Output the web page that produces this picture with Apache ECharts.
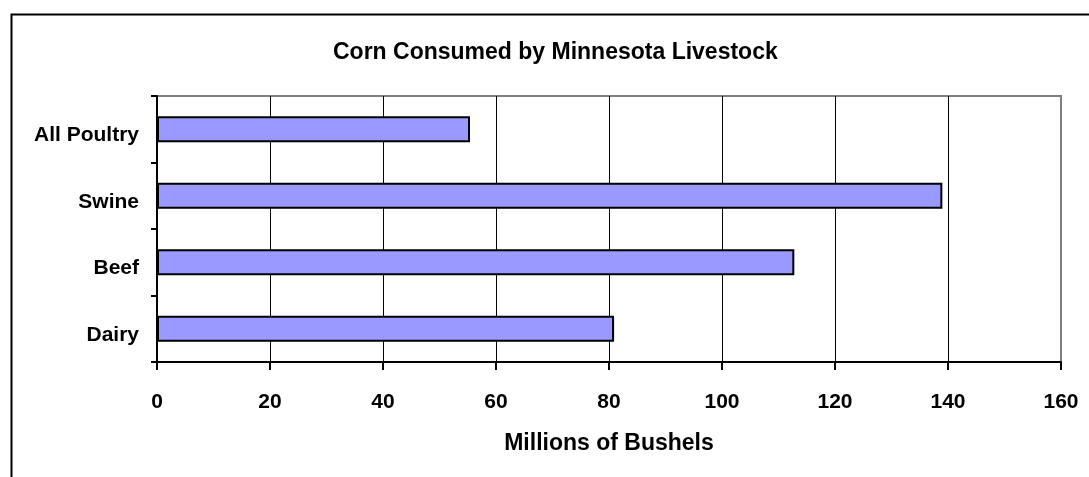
<!DOCTYPE html>
<html>
<head>
<meta charset="utf-8">
<script src="https://cdn.jsdelivr.net/npm/echarts@6/dist/echarts.min.js"></script>
<style>
  html, body { margin: 0; padding: 0; background: #fff; }
  #chart-container { width: 1089px; height: 477px; }
</style>
</head>
<body>
<div id="chart-container"></div>
<script>
var categories = ["Dairy", "Beef", "Swine", "All Poultry"];
var bushels = [80.9, 112.8, 139.0, 55.4];
var xTicks = { min: 0, max: 160, interval: 20 };

var font = 'Arial, "Liberation Sans", sans-serif';

var dom = document.getElementById("chart-container");
var myChart = echarts.init(dom, null, { renderer: "canvas" });

// last split line sits on the gray plot border
var splitColors = [];
for (var i = xTicks.min; i <= xTicks.max; i += xTicks.interval) {
  splitColors.push(i === xTicks.max ? "#808080" : "#000000");
}

var option = {
  animation: false,
  backgroundColor: "#ffffff",
  title: {
    text: "Corn Consumed by Minnesota Livestock",
    left: 328,
    top: 36,
    textStyle: { fontFamily: font, fontSize: 23, fontWeight: "bold", color: "#000" }
  },
  graphic: [{
    type: "rect",
    left: 9, top: 12,
    shape: { width: 1200, height: 600 },
    style: { fill: "none", stroke: "#000", lineWidth: 2 },
    silent: true
  }],
  grid: {
    left: 157, top: 96, right: 28, bottom: 115,
    show: true,
    borderColor: "#808080",
    borderWidth: 2
  },
  xAxis: {
    type: "value",
    min: xTicks.min,
    max: xTicks.max,
    interval: xTicks.interval,
    name: "Millions of Bushels",
    nameLocation: "middle",
    nameGap: 70,
    nameTextStyle: { fontFamily: font, fontSize: 23, fontWeight: "bold", color: "#000" },
    axisLine: { show: true, lineStyle: { color: "#000", width: 2 } },
    axisTick: { show: true, length: 8, lineStyle: { color: "#000", width: 2 } },
    axisLabel: { margin: 30, fontFamily: font, fontSize: 21, fontWeight: "bold", color: "#000" },
    splitLine: { show: true, lineStyle: { color: splitColors, width: 1 } }
  },
  yAxis: {
    type: "category",
    data: categories,
    axisLine: { show: true, lineStyle: { color: "#000", width: 2 } },
    axisTick: { show: true, length: 6, alignWithLabel: false, lineStyle: { color: "#000", width: 2 } },
    axisLabel: {
      margin: 18, verticalAlign: "top", lineHeight: 12,
      fontFamily: font, fontSize: 21, fontWeight: "bold", color: "#000"
    },
    splitLine: { show: false }
  },
  series: [{
    type: "bar",
    data: bushels,
    barWidth: 26,
    itemStyle: { color: "#9999ff", borderColor: "#000", borderWidth: 2 }
  }]
};

myChart.setOption(option);
window.addEventListener("resize", myChart.resize);
</script>
</body>
</html>
